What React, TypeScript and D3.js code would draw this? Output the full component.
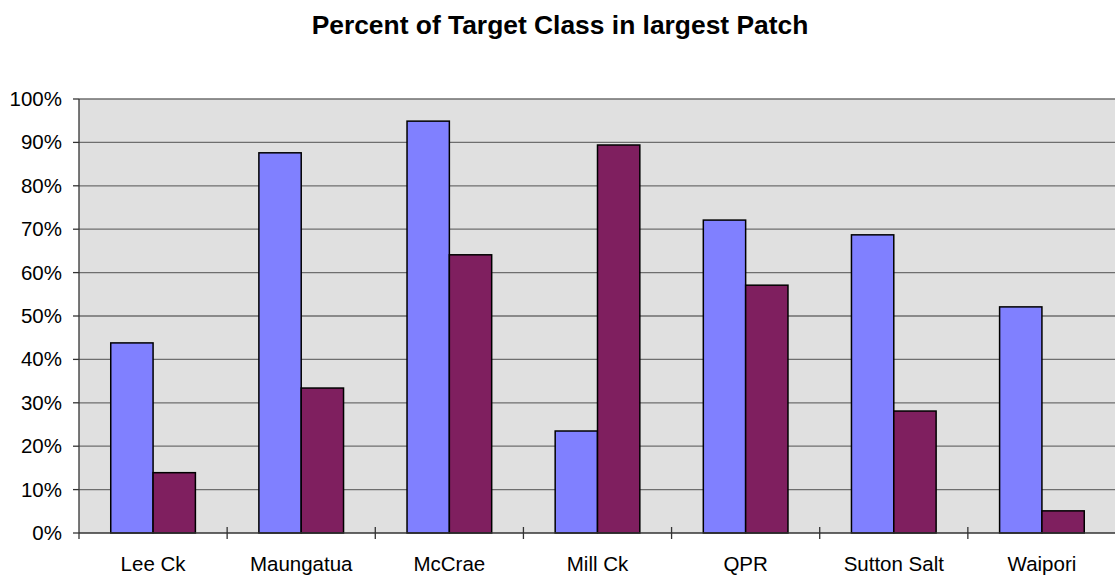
import React, { useEffect, useRef } from 'react'
import * as d3 from 'd3'

const sites = ['Lee Ck', 'Maungatua', 'McCrae', 'Mill Ck', 'QPR', 'Sutton Salt', 'Waipori']
const seriesA = [43.8, 87.6, 94.9, 23.5, 72.1, 68.7, 52.1]
const seriesB = [13.9, 33.4, 64.1, 89.4, 57.1, 28.1, 5.1]
const yTicks = [0, 10, 20, 30, 40, 50, 60, 70, 80, 90, 100]

const W = 1115
const H = 581
const margin = { top: 99, right: -1, bottom: 48, left: 79 }
const font = 'Arial, "Liberation Sans", sans-serif'

const App = () => {
  const svgRef = useRef<SVGSVGElement>(null)

  useEffect(() => {
    const svg = d3.select(svgRef.current)
    svg.selectAll('*').remove()

    const x0 = margin.left
    const x1 = W - margin.right
    const yBottom = H - margin.bottom

    const xScale = d3.scaleBand().domain(sites).range([x0, x1])
    const yScale = d3.scaleLinear().domain([0, 100]).range([yBottom, margin.top])
    // excel style: gap width 150% => bar = band / 3.5
    const barW = xScale.bandwidth() / 3.5

    // plot background
    svg.append('rect')
      .attr('x', x0).attr('y', margin.top)
      .attr('width', x1 - x0).attr('height', yBottom - margin.top)
      .attr('fill', '#e0e0e0')

    // gridlines
    svg.append('g')
      .selectAll('line')
      .data(yTicks.filter(d => d > 0))
      .join('line')
        .attr('x1', x0).attr('x2', x1)
        .attr('y1', d => yScale(d)).attr('y2', d => yScale(d))
        .attr('stroke', '#6e6e6e')
        .attr('stroke-width', 1.3)

    // bars
    const groups = svg.append('g')
      .selectAll('g')
      .data(sites)
      .join('g')

    groups.append('rect')
      .attr('x', d => xScale(d)! + (xScale.bandwidth() - 2 * barW) / 2)
      .attr('y', (d, i) => yScale(seriesA[i]))
      .attr('width', barW)
      .attr('height', (d, i) => yBottom - yScale(seriesA[i]))
      .attr('fill', '#8080ff')
      .attr('stroke', '#000')
      .attr('stroke-width', 1.5)

    groups.append('rect')
      .attr('x', d => xScale(d)! + (xScale.bandwidth() - 2 * barW) / 2 + barW)
      .attr('y', (d, i) => yScale(seriesB[i]))
      .attr('width', barW)
      .attr('height', (d, i) => yBottom - yScale(seriesB[i]))
      .attr('fill', '#7f1f5f')
      .attr('stroke', '#000')
      .attr('stroke-width', 1.5)

    // axes lines
    svg.append('line')
      .attr('x1', x0).attr('x2', x0)
      .attr('y1', margin.top).attr('y2', yBottom + 6)
      .attr('stroke', '#333').attr('stroke-width', 1.3)
    svg.append('line')
      .attr('x1', x0).attr('x2', x1)
      .attr('y1', yBottom).attr('y2', yBottom)
      .attr('stroke', '#333').attr('stroke-width', 1.3)

    // y ticks + labels
    const yAxis = svg.append('g')
    yAxis.selectAll('line')
      .data(yTicks)
      .join('line')
        .attr('x1', x0 - 6).attr('x2', x0)
        .attr('y1', d => yScale(d)).attr('y2', d => yScale(d))
        .attr('stroke', '#333').attr('stroke-width', 1.3)
    yAxis.selectAll('text')
      .data(yTicks)
      .join('text')
        .attr('x', 62)
        .attr('y', d => yScale(d) + 7)
        .attr('text-anchor', 'end')
        .attr('font-family', font)
        .attr('font-size', 20.5)
        .text(d => `${d}%`)

    // category ticks between bands
    svg.append('g')
      .selectAll('line')
      .data(sites.slice(1))
      .join('line')
        .attr('x1', d => xScale(d)!).attr('x2', d => xScale(d)!)
        .attr('y1', yBottom - 6).attr('y2', yBottom + 6)
        .attr('stroke', '#333').attr('stroke-width', 1.3)

    svg.append('g')
      .selectAll('text')
      .data(sites)
      .join('text')
        .attr('x', d => xScale(d)! + xScale.bandwidth() / 2)
        .attr('y', 571)
        .attr('text-anchor', 'middle')
        .attr('font-family', font)
        .attr('font-size', 20.5)
        .text(d => d)

    // title
    svg.append('text')
      .attr('x', 560)
      .attr('y', 34)
      .attr('text-anchor', 'middle')
      .attr('font-family', font)
      .attr('font-size', 26.4)
      .attr('font-weight', 'bold')
      .text('Percent of Target Class in largest Patch')
  }, [])

  return (
    <svg ref={svgRef} width={W} height={H}
      style={{ position: 'absolute', left: 0, top: 0, background: '#fff' }} />
  )
}

export default App
